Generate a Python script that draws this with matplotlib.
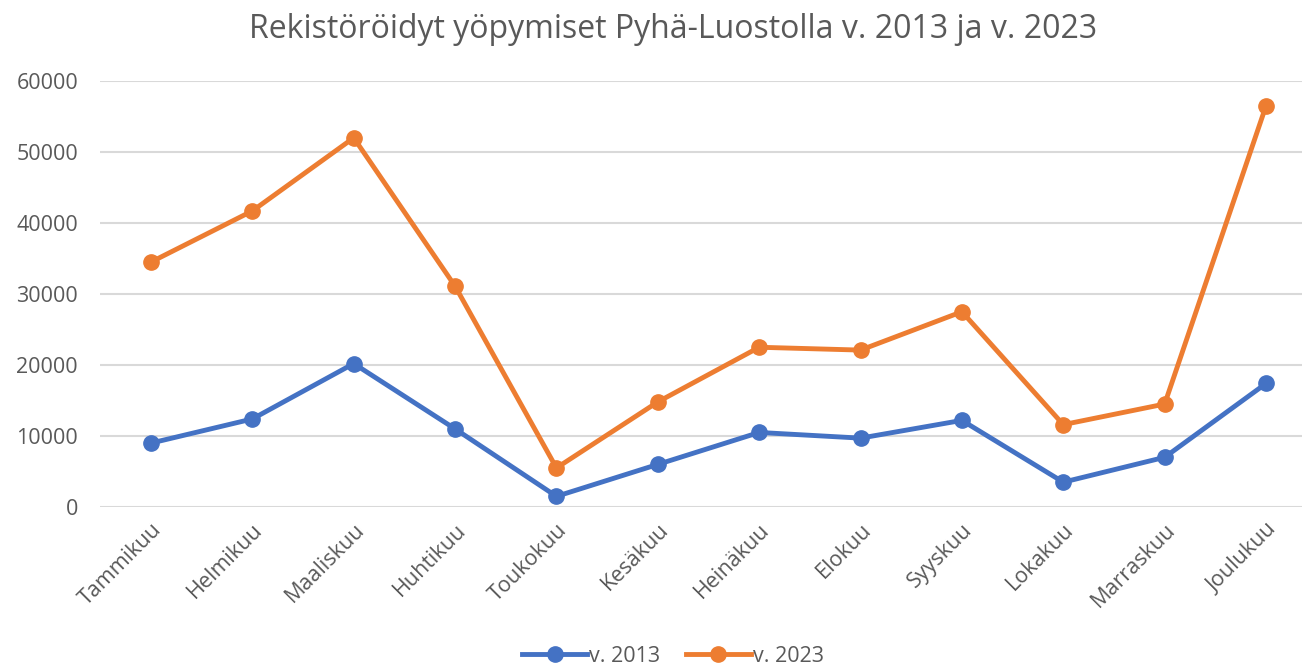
import matplotlib.pyplot as plt

plt.rcParams['font.family'] = ['Open Sans', 'DejaVu Sans']

months = ['Tammikuu', 'Helmikuu', 'Maaliskuu', 'Huhtikuu', 'Toukokuu', 'Kesäkuu',
          'Heinäkuu', 'Elokuu', 'Syyskuu', 'Lokakuu', 'Marraskuu', 'Joulukuu']
v2013 = [9000, 12400, 20200, 11000, 1500, 6000, 10500, 9700, 12200, 3500, 7000, 17400]
v2023 = [34500, 41700, 52000, 31100, 5500, 14800, 22500, 22100, 27500, 11600, 14500, 56500]
yticks = [0, 10000, 20000, 30000, 40000, 50000, 60000]

text_col = '#595959'

fig = plt.figure(figsize=(13.02, 6.68), dpi=100)
ax = fig.add_axes([100.3 / 1302, 161 / 668, 1216.4 / 1302, 426 / 668])

x = range(len(months))
ax.plot(x, v2013, color='#4472C4', lw=3.5, marker='o', ms=11, label='v. 2013')
ax.plot(x, v2023, color='#ED7D31', lw=3.5, marker='o', ms=11, label='v. 2023')

ax.set_xlim(-0.5, 11.5)
ax.set_ylim(0, 60000)
ax.set_yticks(yticks)
ax.set_yticklabels([str(t) for t in yticks], fontsize=15.5, color=text_col)
ax.set_xticks(list(x))
ax.set_xticklabels(months, rotation=45, ha='right', rotation_mode='anchor',
                   fontsize=15.5, color=text_col)
ax.tick_params(length=0)
ax.tick_params(axis='y', pad=16)
ax.tick_params(axis='x', pad=9)
ax.grid(axis='y', color='#D9D9D9', lw=1.5)
ax.set_axisbelow(True)
for s in ax.spines.values():
    s.set_visible(False)

fig.text(673 / 1302, 1 - 29 / 668, 'Rekistöröidyt yöpymiset Pyhä-Luostolla v. 2013 ja v. 2023',
         ha='center', va='center', fontsize=23, color=text_col)
fig.legend(loc='center', bbox_to_anchor=(673 / 1302, 1 - 656 / 668), ncol=2, frameon=False,
           fontsize=15.5, labelcolor=text_col, handlelength=3, handletextpad=0.1, columnspacing=1.2)

fig.savefig('out.png', dpi=100)
